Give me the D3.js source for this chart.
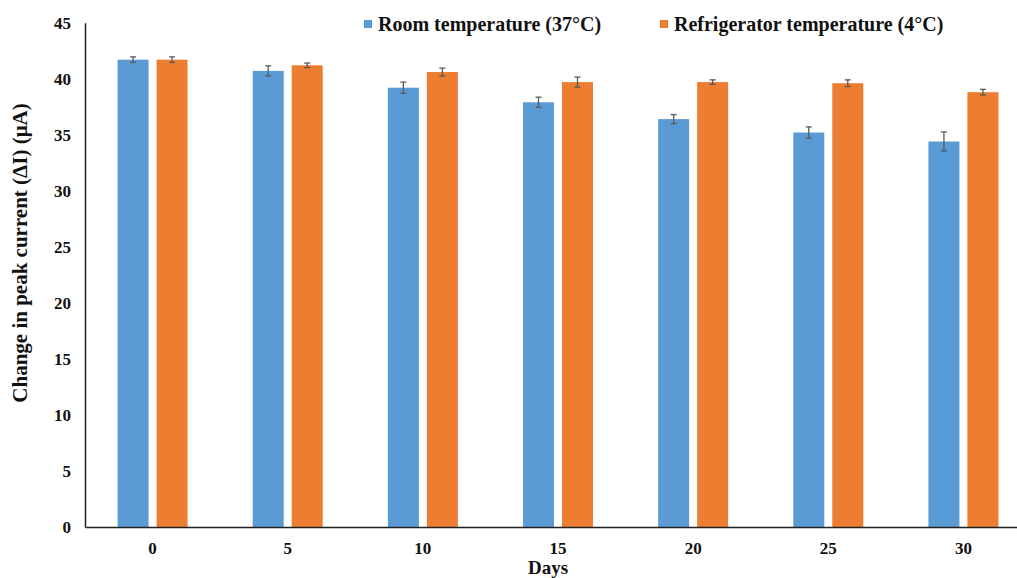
<!DOCTYPE html>
<html>
<head>
<meta charset="utf-8">
<script src="https://cdn.jsdelivr.net/npm/d3@7"></script>
<style>
  html, body { margin: 0; padding: 0; background: #fff; }
  svg { display: block; }
  text { font-family: "Liberation Serif", "Times New Roman", serif; font-weight: bold; fill: #111; }
</style>
</head>
<body>
<svg id="chart" width="1017" height="578"></svg>
<script>
const days = ["0", "5", "10", "15", "20", "25", "30"];
const seriesNames = ["Room temperature (37°C)", "Refrigerator temperature (4°C)"];
const roomValues = [41.7, 40.7, 39.2, 37.9, 36.4, 35.2, 34.4];
const roomErrors = [0.25, 0.45, 0.5, 0.45, 0.4, 0.5, 0.85];
const fridgeValues = [41.7, 41.2, 40.6, 39.7, 39.7, 39.6, 38.8];
const fridgeErrors = [0.25, 0.2, 0.35, 0.45, 0.2, 0.3, 0.25];
const yTicks = [0, 5, 10, 15, 20, 25, 30, 35, 40, 45];
const colors = ["#5B9BD5", "#ED7D31"];

const svg = d3.select("#chart");
const x0 = d3.scaleBand().domain(days).range([85, 1031]).padding(0);
const x1 = d3.scaleBand().domain(seriesNames).range([-35, 35]).paddingInner(0.205).paddingOuter(0);
const y = d3.scaleLinear().domain([0, 45]).range([527, 22.7]);

const rows = days.map((d, i) => ({
  day: d,
  vals: [
    { s: seriesNames[0], v: roomValues[i], e: roomErrors[i], c: colors[0] },
    { s: seriesNames[1], v: fridgeValues[i], e: fridgeErrors[i], c: colors[1] }
  ]
}));

const groups = svg.append("g").selectAll("g").data(rows).join("g")
  .attr("transform", d => `translate(${x0(d.day) + x0.bandwidth() / 2},0)`);

groups.selectAll("rect").data(d => d.vals).join("rect")
  .attr("x", d => x1(d.s))
  .attr("width", x1.bandwidth())
  .attr("y", d => y(d.v))
  .attr("height", d => y(0) - y(d.v))
  .attr("fill", d => d.c);

const err = groups.selectAll("g.err").data(d => d.vals).join("g").attr("class", "err")
  .attr("transform", d => `translate(${x1(d.s) + x1.bandwidth() / 2},0)`)
  .attr("stroke", "#595959").attr("stroke-width", 1.3);
err.append("line").attr("x1", 0).attr("x2", 0).attr("y1", d => y(d.v + d.e)).attr("y2", d => y(d.v - d.e));
err.append("line").attr("x1", -3).attr("x2", 3).attr("y1", d => y(d.v + d.e)).attr("y2", d => y(d.v + d.e));
err.append("line").attr("x1", -3).attr("x2", 3).attr("y1", d => y(d.v - d.e)).attr("y2", d => y(d.v - d.e));

// Y axis
const yAxis = svg.append("g").attr("transform", "translate(85,0)")
  .call(d3.axisLeft(y).tickValues(yTicks).tickSize(0).tickPadding(14));
yAxis.select(".domain").attr("stroke", "#222").attr("stroke-width", 1.5);
yAxis.selectAll("text").attr("font-size", 17).attr("font-family", "Liberation Serif, Times New Roman, serif").attr("font-weight", "bold").attr("fill", "#111");

// X axis
const xAxis = svg.append("g").attr("transform", "translate(0,527)")
  .call(d3.axisBottom(x0).tickSize(0).tickPadding(15));
xAxis.select(".domain").attr("stroke", "#222").attr("stroke-width", 1.5);
xAxis.selectAll("text").attr("font-size", 17).attr("font-family", "Liberation Serif, Times New Roman, serif").attr("font-weight", "bold").attr("fill", "#111");

// Axis titles
svg.append("text").attr("x", 548).attr("y", 574).attr("text-anchor", "middle").attr("font-size", 19).text("Days");
svg.append("text").attr("transform", "translate(27,253) rotate(-90)").attr("text-anchor", "middle").attr("font-size", 21)
  .text("Change in peak current (ΔI) (μA)");

// Legend
const legendX = [364, 660];
const legend = svg.append("g").selectAll("g").data(seriesNames).join("g")
  .attr("transform", (d, i) => `translate(${legendX[i]},20)`);
legend.append("rect").attr("width", 8).attr("height", 8).attr("fill", (d, i) => colors[i]);
legend.append("text").attr("x", 14).attr("y", 10.5).attr("font-size", 20).text(d => d);
</script>
</body>
</html>
